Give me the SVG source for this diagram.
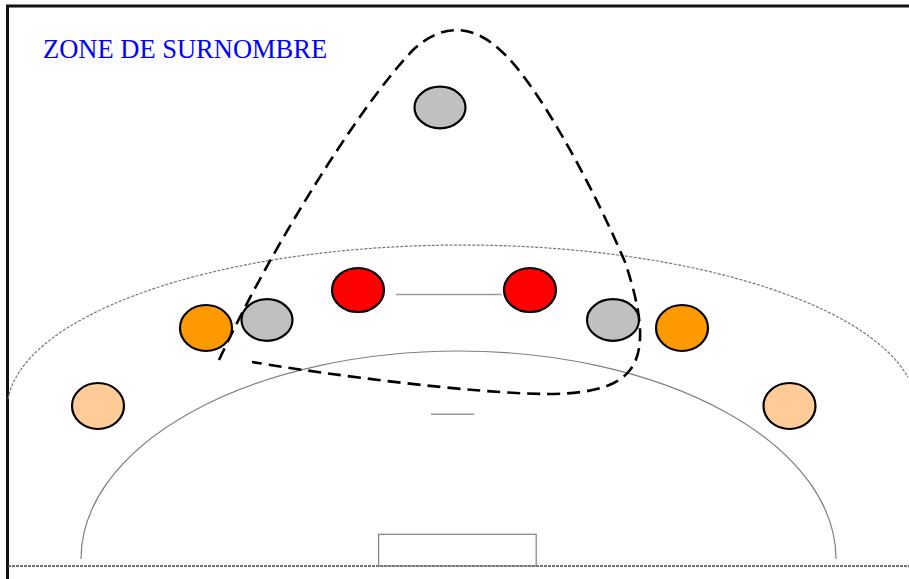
<svg xmlns="http://www.w3.org/2000/svg" width="909" height="579" viewBox="0 0 909 579">
<style>
.player{stroke:#000;stroke-width:2.2}
.grey{fill:#C0C0C0}
.red{fill:#FF0000}
.orange{fill:#FF9900}
.peach{fill:#FFCC99}
.court{fill:none;stroke:#808080;stroke-width:1.2}
.dotted{fill:none;stroke:#777;stroke-width:1.2;stroke-dasharray:3 1.5}
.zone{fill:none;stroke:#000;stroke-width:2.6;stroke-dasharray:13 7}
.title{font-family:"Liberation Serif","Times New Roman",serif;font-size:26.5px;fill:#0000FF}
</style>
<rect width="909" height="579" fill="#fff"/>
<g id="frame">
<line x1="6" y1="6" x2="909" y2="6" stroke="#111" stroke-width="3"/>
<line x1="7.5" y1="5" x2="7.5" y2="579" stroke="#111" stroke-width="3"/>
<line x1="8" y1="566" x2="909" y2="566" stroke="#444" stroke-width="1.4" stroke-dasharray="3 1"/>
</g>
<g id="court">
<path class="dotted" d="M 8,399 A 455,165 0 0 1 908,377.4"/>
<path class="court" d="M 81,559 A 377.5,208 0 0 1 836,559"/>
<rect class="court" x="378.6" y="534.3" width="157.6" height="31.7"/>
<line x1="431" y1="414.3" x2="474.3" y2="414.3" stroke="#999" stroke-width="1.5"/>
</g>
<text id="title" class="title" x="43" y="58">ZONE DE SURNOMBRE</text>
<g id="zone">
<path class="zone" d="M 219,360 C 270,250 360,105 413,50 C 440,25 470,22 500,50 C 535,80 590,180 625,262 C 636,295 650,345 630,370 C 615,390 580,394 545,394 C 470,393 330,375 252,362"/>
</g>
<g id="connectors">
<line x1="396" y1="294.5" x2="501" y2="294.5" stroke="#999" stroke-width="1.5"/>
</g>
<g id="grey-top"><ellipse class="player grey" cx="440" cy="107.5" rx="25.5" ry="20.8"/></g>
<g id="red-left"><ellipse class="player red" cx="358" cy="290" rx="26" ry="22"/></g>
<g id="red-right"><ellipse class="player red" cx="530" cy="290" rx="26" ry="22"/></g>
<g id="grey-left"><ellipse class="player grey" cx="267" cy="320" rx="25.5" ry="20.8"/></g>
<g id="grey-right"><ellipse class="player grey" cx="613" cy="320" rx="26" ry="20.8"/></g>
<g id="orange-left"><ellipse class="player orange" cx="206" cy="328" rx="26" ry="23"/></g>
<g id="orange-right"><ellipse class="player orange" cx="682" cy="328" rx="26" ry="23"/></g>
<g id="peach-left"><ellipse class="player peach" cx="98" cy="406" rx="26" ry="23"/></g>
<g id="peach-right"><ellipse class="player peach" cx="789.5" cy="406" rx="26" ry="23"/></g>
</svg>
